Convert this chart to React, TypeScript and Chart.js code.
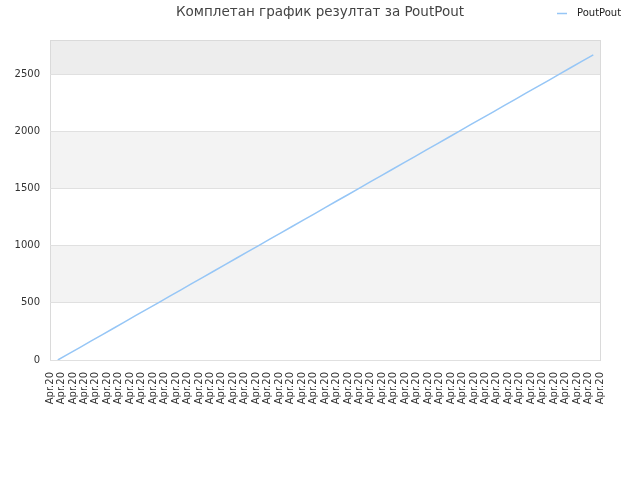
import { useEffect, useRef } from "react"
import { Chart, registerables } from "chart.js"

Chart.register(...registerables)

const TITLE = "Комплетан график резултат за PoutPout"
const SERIES_NAME = "PoutPout"

// 49 dates on the x axis, all printed as "Apr.20"
const dateLabels: string[] = [
  "Apr.20", "Apr.20", "Apr.20", "Apr.20", "Apr.20", "Apr.20", "Apr.20",
  "Apr.20", "Apr.20", "Apr.20", "Apr.20", "Apr.20", "Apr.20", "Apr.20",
  "Apr.20", "Apr.20", "Apr.20", "Apr.20", "Apr.20", "Apr.20", "Apr.20",
  "Apr.20", "Apr.20", "Apr.20", "Apr.20", "Apr.20", "Apr.20", "Apr.20",
  "Apr.20", "Apr.20", "Apr.20", "Apr.20", "Apr.20", "Apr.20", "Apr.20",
  "Apr.20", "Apr.20", "Apr.20", "Apr.20", "Apr.20", "Apr.20", "Apr.20",
  "Apr.20", "Apr.20", "Apr.20", "Apr.20", "Apr.20", "Apr.20", "Apr.20",
]

// cumulative score
const scores: number[] = [
  0, 56, 111, 167, 223, 278, 334, 390, 445, 501,
  557, 612, 668, 724, 779, 835, 891, 946, 1002, 1058,
  1113, 1169, 1225, 1280, 1336, 1392, 1447, 1503, 1559, 1614,
  1670, 1726, 1781, 1837, 1893, 1948, 2004, 2060, 2115, 2171,
  2227, 2282, 2338, 2394, 2449, 2505, 2561, 2616, 2672,
]

const yTicks: number[] = [0, 500, 1000, 1500, 2000, 2500]
const Y_MAX = 2800

const LINE_COLOR = "#96c6f6"
const FONT = "'DejaVu Sans', Verdana, sans-serif"

// zebra bands behind the plot + frame
const bandsPlugin = {
  id: "bands",
  beforeDraw(chart: Chart) {
    const { ctx, chartArea } = chart
    const y = chart.scales.y
    const edges = [...yTicks, Y_MAX]
    ctx.save()
    for (let i = 0; i < edges.length - 1; i++) {
      const top = y.getPixelForValue(edges[i + 1])
      const bottom = y.getPixelForValue(edges[i])
      let fill = "#ffffff"
      if (i === edges.length - 2) fill = "#ededed"
      else if (i % 2 === 1) fill = "#f3f3f3"
      ctx.fillStyle = fill
      ctx.fillRect(chartArea.left, top, chartArea.right - chartArea.left, bottom - top)
    }
    ctx.strokeStyle = "#dadada"
    ctx.lineWidth = 1
    ctx.strokeRect(
      Math.round(chartArea.left) + 0.5,
      Math.round(chartArea.top) + 0.5,
      Math.round(chartArea.right - chartArea.left),
      Math.round(chartArea.bottom - chartArea.top)
    )
    ctx.restore()
  },
}

// small legend on the title line, top right
const topLegendPlugin = {
  id: "topLegend",
  afterDraw(chart: Chart) {
    const { ctx } = chart
    ctx.save()
    chart.data.datasets.forEach((ds) => {
      ctx.strokeStyle = ds.borderColor as string
      ctx.lineWidth = 1.5
      ctx.beginPath()
      ctx.moveTo(557, 13.5)
      ctx.lineTo(567, 13.5)
      ctx.stroke()
      ctx.fillStyle = "#222"
      ctx.font = `10px ${FONT}`
      ctx.textBaseline = "middle"
      ctx.textAlign = "left"
      ctx.fillText(ds.label || "", 577, 13)
    })
    ctx.restore()
  },
}

export default function App() {
  const chartRef = useRef<HTMLCanvasElement>(null)
  const chartInstance = useRef<Chart | null>(null)

  useEffect(() => {
    document.body.style.margin = "0"
    if (!chartRef.current) return
    if (chartInstance.current) chartInstance.current.destroy()
    const ctx = chartRef.current.getContext("2d")
    if (!ctx) return

    chartInstance.current = new Chart(ctx, {
      type: "line",
      data: {
        labels: dateLabels,
        datasets: [
          {
            label: SERIES_NAME,
            data: scores.map((v, i) => ({ x: i, y: v })),
            xAxisID: "xl",
            yAxisID: "y",
            borderColor: LINE_COLOR,
            backgroundColor: LINE_COLOR,
            borderWidth: 1.5,
            pointRadius: 0,
            tension: 0,
            fill: false,
          },
        ],
      },
      options: {
        animation: false,
        responsive: false,
        devicePixelRatio: 1,
        layout: { padding: 0 },
        plugins: {
          legend: { display: false },
          tooltip: { enabled: false },
          title: {
            display: true,
            text: TITLE,
            color: "#444",
            font: { family: FONT, size: 13.5, weight: "normal" },
            padding: { top: 4, bottom: 20 },
          },
        },
        scales: {
          x: {
            type: "category",
            offset: false,
            grid: { display: false, drawTicks: false },
            border: { display: false },
            ticks: {
              autoSkip: false,
              minRotation: 90,
              maxRotation: 90,
              padding: 12,
              color: "#333",
              font: { family: FONT, size: 10 },
            },
            afterFit: (axis) => {
              axis.height = 120
            },
          },
          xl: {
            type: "linear",
            display: false,
            min: -0.7,
            max: 48.6,
          },
          y: {
            type: "linear",
            position: "left",
            min: 0,
            max: Y_MAX,
            grid: { color: "#e0e0e0", drawTicks: false },
            border: { display: false },
            ticks: {
              autoSkip: false,
              padding: 10,
              color: "#333",
              font: { family: FONT, size: 10 },
              callback: (value) => String(value),
            },
            afterBuildTicks: (axis) => {
              axis.ticks = yTicks.map((v) => ({ value: v }))
            },
            afterFit: (axis) => {
              axis.width = 50
            },
          },
          // empty right-hand axis that only keeps the right margin
          yr: {
            type: "linear",
            position: "right",
            display: true,
            grid: { display: false, drawTicks: false },
            border: { display: false },
            ticks: { display: false },
            afterFit: (axis) => {
              axis.width = 40
            },
          },
        },
      },
      plugins: [bandsPlugin, topLegendPlugin],
    })

    return () => {
      if (chartInstance.current) {
        chartInstance.current.destroy()
        chartInstance.current = null
      }
    }
  }, [])

  return (
    <div style={{ width: 640, height: 480 }}>
      <canvas ref={chartRef} width={640} height={480} />
    </div>
  )
}
